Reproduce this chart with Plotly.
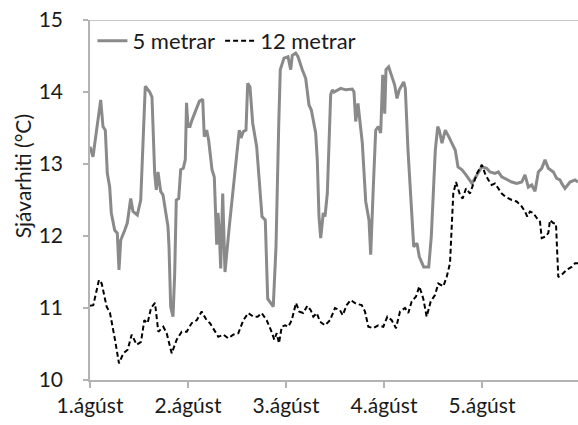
import plotly.graph_objects as go

# Hours since 1 August 00:00
hours_5m = [0.0, 0.73, 2.62, 3.18, 3.75, 4.24, 4.82, 5.22, 6.05, 6.69, 7.10, 7.52, 8.50, 9.13, 9.97,
            10.53, 11.58, 12.42, 12.98, 13.54, 14.62, 15.18, 15.84, 16.24, 16.65, 17.31, 17.88, 19.10,
            19.35, 19.76, 20.33, 20.74, 21.13, 21.72, 22.21, 22.85, 23.34, 23.64, 24.0, 24.49, 24.98,
            26.77, 27.60, 27.99, 28.57, 29.06, 29.88, 30.44, 31.03, 31.35, 31.67, 32.01, 32.50, 33.06,
            34.11, 35.34, 36.56, 36.98, 37.54, 38.20, 38.62, 39.18, 39.84, 40.82, 42.12, 42.93, 43.51,
            44.88, 45.55, 46.21, 46.60, 47.51, 48.49, 49.15, 49.54, 50.37, 50.94, 51.99, 52.82, 53.63,
            54.20, 55.27, 55.66, 56.08, 56.50, 57.13, 57.55, 58.12, 58.94, 59.34, 59.76, 61.40, 62.62,
            64.24, 64.65, 65.07, 65.63, 66.69, 67.52, 68.33, 68.74, 69.38, 69.97, 70.61, 71.19, 71.69,
            72.18, 72.49, 73.14, 73.96, 74.60, 75.18, 75.75, 76.82, 77.22, 77.88, 78.69, 79.28, 80.08,
            80.65, 81.72, 82.95, 83.58, 84.56, 85.15, 85.54, 86.20, 87.01, 87.85, 88.82, 89.46, 90.12,
            91.10, 92.08, 92.74, 93.55, 94.78, 95.93, 97.15, 97.96, 99.18, 100.0, 100.83, 102.06,
            103.28, 104.51, 105.73, 106.53, 107.35, 108.18, 108.98, 109.80, 110.63, 111.43, 112.24,
            113.47, 114.29, 115.10, 115.52, 116.33, 117.55, 118.78, 119.51]
temp_5m = [13.24, 13.10, 13.89, 13.52, 13.47, 12.87, 12.68, 12.32, 12.08, 12.04, 11.53, 11.94, 12.08,
           12.18, 12.52, 12.34, 12.29, 12.50, 13.29, 14.08, 14.00, 13.93, 12.87, 12.64, 12.89, 12.62,
           12.57, 12.13, 11.85, 11.02, 10.88, 11.48, 12.50, 12.52, 12.92, 12.94, 13.06, 13.85, 13.52,
           13.52, 13.61, 13.87, 13.90, 13.38, 13.47, 13.33, 12.92, 12.82, 11.88, 12.32, 12.04, 11.55,
           12.59, 11.50, 12.13, 12.82, 13.47, 13.36, 13.45, 13.47, 14.12, 14.07, 13.57, 13.24, 12.27,
           12.22, 11.13, 11.02, 11.85, 13.52, 14.31, 14.47, 14.49, 14.31, 14.51, 14.54, 14.49, 14.31,
           14.19, 13.82, 13.75, 13.43, 13.06, 12.27, 11.97, 12.32, 12.27, 12.59, 13.96, 14.03, 14.00,
           14.05, 14.03, 14.04, 14.00, 13.59, 13.84, 13.29, 12.48, 12.22, 11.74, 12.68, 13.47, 13.52,
           13.43, 14.24, 13.70, 14.31, 14.35, 14.21, 14.10, 13.91, 14.03, 14.14, 14.05, 13.19, 12.41,
           11.85, 11.90, 11.71, 11.57, 11.57, 11.99, 13.19, 13.52, 13.47, 13.29, 13.47, 13.38, 13.26,
           13.19, 12.96, 12.92, 12.85, 12.80, 12.73, 12.85, 12.96, 12.94, 12.89, 12.87, 12.89, 12.82,
           12.78, 12.75, 12.73, 12.75, 12.85, 12.68, 12.71, 12.62, 12.89, 12.94, 13.06, 12.94, 12.89,
           12.80, 12.78, 12.73, 12.66, 12.75, 12.78, 12.75]

hours_12m = [0.0, 0.81, 2.20, 2.87, 4.07, 4.90, 6.12, 7.10, 8.16, 9.23, 10.21, 11.44, 12.49, 13.30,
             14.11, 14.94, 15.92, 16.73, 17.95, 18.78, 20.01, 21.23, 22.46, 23.68, 24.91, 26.13, 27.35,
             28.57, 29.39, 30.20, 31.42, 32.65, 33.87, 35.09, 36.32, 37.54, 38.77, 39.99, 41.05, 42.04,
             43.27, 44.33, 45.14, 45.72, 46.29, 46.95, 47.76, 48.56, 49.40, 50.45, 51.26, 52.24, 53.22,
             54.06, 54.69, 55.53, 56.33, 57.55, 58.78, 60.00, 61.22, 61.89, 62.87, 63.84, 65.14, 66.54,
             67.35, 68.16, 69.38, 70.60, 71.84, 72.82, 73.89, 74.94, 75.92, 77.14, 77.95, 78.78, 79.84,
             80.64, 81.62, 82.45, 83.44, 84.49, 85.30, 86.52, 87.35, 88.16, 88.58, 88.97, 89.63, 90.61,
             91.27, 92.08, 93.06, 93.80, 94.78, 95.96, 96.73, 97.54, 98.38, 99.18, 100.0, 100.83,
             101.63, 103.27, 104.49, 105.72, 106.53, 107.09, 107.76, 108.57, 109.40, 110.20, 110.62,
             111.43, 112.24, 112.65, 113.46, 114.12, 114.68, 115.51, 116.74, 117.97, 118.78, 119.51]
temp_12m = [11.03, 11.04, 11.39, 11.34, 11.02, 10.93, 10.56, 10.23, 10.37, 10.42, 10.63, 10.49, 10.53,
            10.83, 10.79, 11.00, 11.07, 10.67, 10.74, 10.65, 10.37, 10.56, 10.67, 10.67, 10.79, 10.83,
            10.95, 10.83, 10.79, 10.72, 10.60, 10.63, 10.58, 10.63, 10.65, 10.83, 10.93, 10.88, 10.88,
            10.93, 10.83, 10.69, 10.56, 10.65, 10.51, 10.74, 10.76, 10.74, 10.83, 11.07, 10.95, 10.93,
            11.03, 10.97, 10.88, 10.93, 10.81, 10.76, 10.83, 11.00, 10.97, 10.90, 11.04, 11.11, 11.06,
            11.04, 10.95, 10.74, 10.72, 10.76, 10.74, 10.88, 10.83, 10.72, 10.95, 11.00, 10.93, 11.09,
            11.16, 11.30, 11.13, 10.88, 11.09, 11.18, 11.34, 11.30, 11.43, 11.62, 12.08, 12.59, 12.75,
            12.57, 12.52, 12.66, 12.59, 12.71, 12.87, 12.99, 12.87, 12.78, 12.71, 12.73, 12.66, 12.59,
            12.55, 12.50, 12.48, 12.41, 12.34, 12.27, 12.34, 12.32, 12.25, 12.20, 11.97, 11.99, 12.04,
            12.22, 12.18, 12.17, 11.43, 11.46, 11.53, 11.57, 11.62, 11.62]

tick_hours = [0, 24, 48, 72, 96]
tick_labels = ["1.ágúst", "2.ágúst", "3.ágúst", "4.ágúst", "5.ágúst"]
y_ticks = [10, 11, 12, 13, 14, 15]
y_title = "Sjávarhiti (°C)"

FONT = "Lato"
TXT = "#1a1a1a"
AX = "#b3b3b3"

fig = go.Figure()
fig.add_trace(go.Scatter(x=hours_5m, y=temp_5m, mode="lines", name="5 metrar",
                         line=dict(color="#8a8a8a", width=3)))
fig.add_trace(go.Scatter(x=hours_12m, y=temp_12m, mode="lines", name="12 metrar",
                         line=dict(color="#000000", width=2, dash="5px,3px")))

fig.add_shape(type="line", xref="paper", yref="y", x0=0, x1=1, y0=15, y1=15,
              line=dict(color=AX, width=1.5))

# y-axis title placed like the reference (slightly above the plot centre)
fig.add_annotation(text=y_title, textangle=-90, xref="paper", yref="paper",
                   x=-0.138, y=0.565, xanchor="center", yanchor="middle", showarrow=False,
                   font=dict(family=FONT, size=21, color=TXT))

fig.update_layout(
    width=578, height=425,
    margin=dict(l=90, r=0, t=20, b=45),
    paper_bgcolor="white", plot_bgcolor="white",
    font=dict(family=FONT, size=21, color=TXT),
    showlegend=True,
    legend=dict(orientation="h", x=0.005, y=1.0, xanchor="left", yanchor="top",
                bgcolor="rgba(0,0,0,0)", font=dict(size=22, color=TXT),
                itemwidth=30, tracegroupgap=0),
    xaxis=dict(range=[0, 119.51], tickvals=tick_hours, ticktext=tick_labels,
               showgrid=False, zeroline=False, showline=True, linecolor=AX, linewidth=1.5,
               ticks="outside", ticklen=6, tickcolor=AX, tickwidth=1.5,
               tickfont=dict(family=FONT, size=21, color=TXT)),
    yaxis=dict(range=[10, 15], tickvals=y_ticks, showgrid=False, zeroline=False,
               showline=True, linecolor=AX, linewidth=1.5,
               ticks="outside", ticklen=5, tickcolor=AX, tickwidth=1.5,
               ticklabelstandoff=16,
               tickfont=dict(family=FONT, size=21, color=TXT)),
)

fig.write_html("out.html")
